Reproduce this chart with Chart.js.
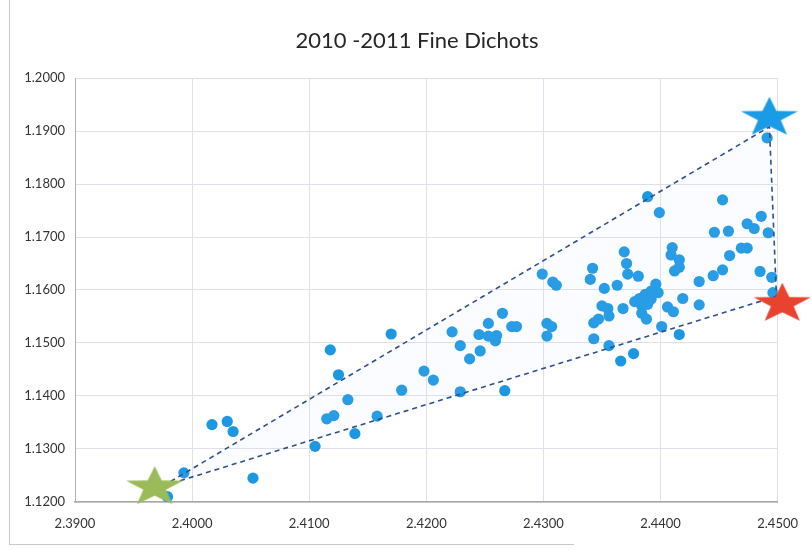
<!DOCTYPE html>
<html>
<head>
<meta charset="utf-8">
<script src="https://cdn.jsdelivr.net/npm/chart.js@4/dist/chart.umd.min.js"></script>
<style>
  html, body { margin: 0; padding: 0; background: #ffffff; }
  #wrap { position: relative; width: 812px; height: 550px; }
  #frameLeft { position: absolute; left: 9px; top: 0; width: 1px; height: 545px; background: #c8c8c8; }
  #frameBottom { position: absolute; left: 9px; top: 544px; width: 565px; height: 1px; background: #c8c8c8; }
  canvas { position: absolute; left: 0; top: 0; }
</style>
</head>
<body>
<div id="wrap">
  <div id="frameLeft"></div>
  <div id="frameBottom"></div>
  <canvas id="chart" width="812" height="550"></canvas>
</div>
<script>
// Chart title and axis tick labels
const chartTitle = '2010 -2011 Fine Dichots';
const xTickLabels = ['2.3900', '2.4000', '2.4100', '2.4200', '2.4300', '2.4400', '2.4500'];
const yTickLabels = ['1.1200', '1.1300', '1.1400', '1.1500', '1.1600', '1.1700', '1.1800', '1.1900', '1.2000'];

// Dichot measurements (x, y)
const dichotX = [
  2.3979, 2.3993, 2.4017, 2.4030, 2.4035, 2.4052, 2.4105, 2.4115, 2.4121, 2.4133,
  2.4139, 2.4158, 2.4179, 2.4118, 2.4125, 2.4170, 2.4198, 2.4206, 2.4229, 2.4222,
  2.4229, 2.4237, 2.4246, 2.4245, 2.4253, 2.4260, 2.4259, 2.4253, 2.4265, 2.4273,
  2.4277, 2.4267, 2.4303, 2.4307, 2.4303, 2.4299, 2.4308, 2.4311, 2.4340, 2.4342,
  2.4352, 2.4363, 2.4372, 2.4381, 2.4369, 2.4371, 2.4389, 2.4399, 2.4410, 2.4409,
  2.4416, 2.4416, 2.4412, 2.4396, 2.4398, 2.4392, 2.4387, 2.4382, 2.4378, 2.4392,
  2.4389, 2.4384, 2.4368, 2.4350, 2.4355, 2.4356, 2.4347, 2.4343, 2.4343, 2.4356,
  2.4366, 2.4377, 2.4384, 2.4388, 2.4401, 2.4406, 2.4411, 2.4419, 2.4433, 2.4445,
  2.4453, 2.4459, 2.4469, 2.4474, 2.4446, 2.4458, 2.4474, 2.4480, 2.4486, 2.4492,
  2.4453, 2.4491, 2.4485, 2.4495, 2.4496, 2.4433, 2.4416
];
const dichotY = [
  1.1210, 1.1255, 1.1346, 1.1352, 1.1333, 1.1245, 1.1305, 1.1357, 1.1363, 1.1393,
  1.1329, 1.1362, 1.1411, 1.1487, 1.1440, 1.1517, 1.1447, 1.1430, 1.1408, 1.1521,
  1.1495, 1.1470, 1.1485, 1.1516, 1.1513, 1.1514, 1.1504, 1.1537, 1.1556, 1.1531,
  1.1531, 1.1410, 1.1537, 1.1531, 1.1513, 1.1630, 1.1615, 1.1609, 1.1620, 1.1641,
  1.1603, 1.1609, 1.1630, 1.1626, 1.1672, 1.1650, 1.1776, 1.1746, 1.1680, 1.1666,
  1.1657, 1.1643, 1.1636, 1.1611, 1.1595, 1.1598, 1.1592, 1.1584, 1.1578, 1.1583,
  1.1573, 1.1570, 1.1565, 1.1570, 1.1565, 1.1551, 1.1545, 1.1538, 1.1508, 1.1495,
  1.1466, 1.1480, 1.1556, 1.1545, 1.1531, 1.1568, 1.1559, 1.1584, 1.1616, 1.1627,
  1.1638, 1.1665, 1.1679, 1.1679, 1.1709, 1.1711, 1.1725, 1.1716, 1.1739, 1.1708,
  1.1770, 1.1887, 1.1635, 1.1624, 1.1595, 1.1572, 1.1516
];

// Reference stars: start (green), upper bound (blue), lower bound (red)
const starX = [2.3968, 2.4493, 2.4504];
const starY = [1.1228, 1.1925, 1.1574];
const starColors = ['#9bbb59', '#1a9be6', '#e8432e'];

// Dashed boundary triangle joining the reference corners
const boundX = [2.3975, 2.4493, 2.4499, 2.3975];
const boundY = [1.1230, 1.1908, 1.1588, 1.1230];

const xMin = 2.39, xMax = 2.45, xStep = 0.01;
const yMin = 1.12, yMax = 1.20, yStep = 0.01;

function toPoints(xs, ys) {
  return xs.map((x, i) => ({ x: x, y: ys[i] }));
}

// Five-pointed star sprite used as a point style (wide, flattened shape)
function makeStar(color) {
  const w = 60, h = 46;
  const c = document.createElement('canvas');
  c.width = w; c.height = h;
  const ctx = c.getContext('2d');
  const rx = 30, ry = 21, inner = 0.40;
  ctx.beginPath();
  for (let i = 0; i < 10; i++) {
    const a = -Math.PI / 2 + i * Math.PI / 5;
    const f = (i % 2 === 0) ? 1 : inner;
    const px = w / 2 + Math.cos(a) * rx * f;
    const py = h / 2 + Math.sin(a) * ry * f;
    if (i === 0) ctx.moveTo(px, py); else ctx.lineTo(px, py);
  }
  ctx.closePath();
  ctx.fillStyle = color;
  ctx.fill();
  return c;
}
const starSprites = starColors.map(makeStar);

// Title drawn above the plot area
const titlePlugin = {
  id: 'plotTitle',
  afterDraw(chart) {
    const ctx = chart.ctx;
    ctx.save();
    ctx.font = '22px Lato, "Open Sans", sans-serif';
    ctx.fillStyle = '#262626';
    ctx.textAlign = 'center';
    ctx.textBaseline = 'middle';
    ctx.fillText(chartTitle, 417, 41);
    ctx.restore();
  }
};

new Chart(document.getElementById('chart'), {
  type: 'scatter',
  data: {
    datasets: [
      {
        label: 'Reference',
        data: toPoints(starX, starY),
        pointStyle: starSprites,
        pointRadius: 28,
        pointHoverRadius: 28,
        clip: false,
        order: 0
      },
      {
        label: 'Bounds',
        data: toPoints(boundX, boundY),
        showLine: true,
        borderColor: '#2d4f8e',
        borderWidth: 1.6,
        borderDash: [5, 4],
        backgroundColor: 'rgba(200, 212, 250, 0.07)',
        fill: 'shape',
        pointRadius: 0,
        tension: 0,
        clip: false,
        order: 1
      },
      {
        label: 'Fine Dichots',
        data: toPoints(dichotX, dichotY),
        backgroundColor: '#1c98e2',
        borderColor: '#1c98e2',
        borderWidth: 0,
        pointRadius: 5.6,
        pointHoverRadius: 5.6,
        order: 2
      }
    ]
  },
  options: {
    responsive: false,
    animation: false,
    layout: { padding: { left: 0, right: 32, top: 78, bottom: 0 } },
    plugins: {
      legend: { display: false },
      tooltip: { enabled: false },
      title: { display: false }
    },
    scales: {
      x: {
        type: 'linear',
        min: xMin,
        max: xMax,
        afterFit(scale) { scale.height = 48; },
        ticks: {
          stepSize: xStep,
          padding: 14,
          color: '#333333',
          font: { family: 'Lato, "Open Sans", sans-serif', size: 13 },
          maxRotation: 0,
          callback: (v) => xTickLabels[Math.round((v - xMin) / xStep)]
        },
        grid: { color: '#e0e0ea', lineWidth: 1, drawTicks: false },
        border: { color: '#a8a8a8', width: 1.5 }
      },
      y: {
        type: 'linear',
        min: yMin,
        max: yMax,
        afterFit(scale) { scale.width = 75; },
        ticks: {
          stepSize: yStep,
          padding: 10,
          color: '#333333',
          font: { family: 'Lato, "Open Sans", sans-serif', size: 13 },
          callback: (v) => yTickLabels[Math.round((v - yMin) / yStep)]
        },
        grid: { color: '#e0e0ea', lineWidth: 1, drawTicks: false },
        border: { color: '#b0b0b0', width: 1 }
      }
    }
  },
  plugins: [titlePlugin]
});
</script>
</body>
</html>
